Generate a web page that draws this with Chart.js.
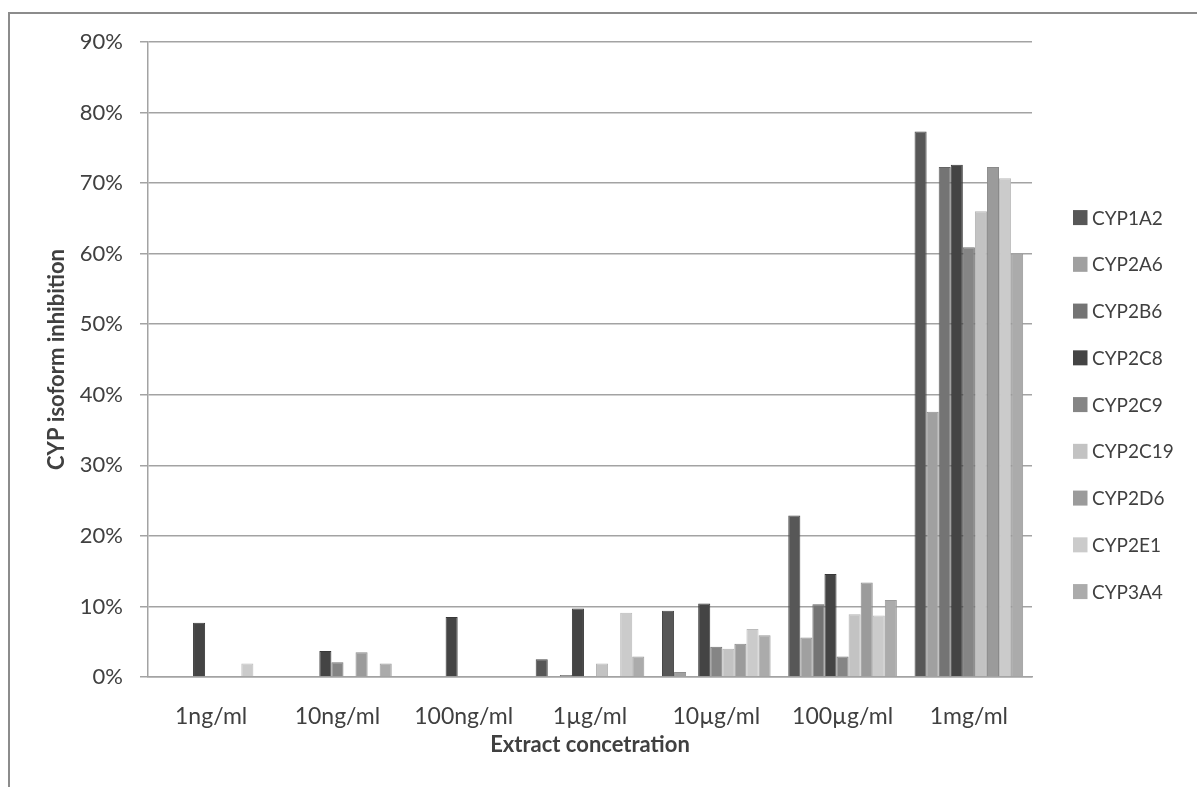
<!DOCTYPE html>
<html>
<head>
<meta charset="utf-8">
<script src="https://cdn.jsdelivr.net/npm/chart.js@4/dist/chart.umd.min.js"></script>
<style>
  html, body { margin: 0; padding: 0; background: #ffffff; overflow: hidden; }
  #wrap { position: relative; width: 1197px; height: 787px; }
  #frame { position: absolute; left: 8px; top: 12px; width: 1300px; height: 900px; border: 2px solid #8c8c8c; box-sizing: border-box; }
  #c { position: absolute; left: 0; top: 0; }
</style>
</head>
<body>
<div id="wrap">
  <div id="frame"></div>
  <canvas id="c" width="1197" height="787"></canvas>
</div>
<script>
// ---- data (values in %) ----
const categories = ['1ng/ml', '10ng/ml', '100ng/ml', '1\u00b5g/ml', '10\u00b5g/ml', '100\u00b5g/ml', '1mg/ml'];
const seriesNames = ['CYP1A2', 'CYP2A6', 'CYP2B6', 'CYP2C8', 'CYP2C9', 'CYP2C19', 'CYP2D6', 'CYP2E1', 'CYP3A4'];
const CYP1A2  = [0,   0,   0,   2.5, 9.4,  22.9, 77.3];
const CYP2A6  = [0,   0,   0,   0,   0.7,  5.6,  37.6];
const CYP2B6  = [0,   0,   0,   0.3, 0,    10.3, 72.3];
const CYP2C8  = [7.7, 3.7, 8.5, 9.7, 10.4, 14.6, 72.6];
const CYP2C9  = [0,   2.1, 0,   0,   4.3,  2.9,  60.9];
const CYP2C19 = [0,   0,   0,   1.9, 4.0,  8.9,  66.0];
const CYP2D6  = [0,   3.5, 0,   0,   4.7,  13.4, 72.3];
const CYP2E1  = [1.9, 0,   0,   9.1, 6.8,  8.7,  70.7];
const CYP3A4  = [0,   1.9, 0,   2.9, 5.9,  10.9, 60.0];
const yTicks = [0, 10, 20, 30, 40, 50, 60, 70, 80, 90];

const seriesValues = [CYP1A2, CYP2A6, CYP2B6, CYP2C8, CYP2C9, CYP2C19, CYP2D6, CYP2E1, CYP3A4];
const fillColors   = ['#575757', '#a0a0a0', '#747474', '#444444', '#858585', '#c3c3c3', '#9b9b9b', '#cbcbcb', '#ababab'];
const edgeColors   = ['#474747', '#8e8e8e', '#646464', '#383838', '#747474', '#b3b3b3', '#8a8a8a', '#bbbbbb', '#9a9a9a'];

const FONT = 'Lato, "Open Sans", sans-serif';
const TEXT = '#404040';

const customLegend = {
  id: 'customLegend',
  afterDraw(chart) {
    const ctx = chart.ctx;
    const area = chart.chartArea;
    const n = chart.data.datasets.length;
    const step = 46.75;
    const centerY = area.top + (area.bottom - area.top) * 0.571;
    const y0 = centerY - step * (n - 1) / 2;
    const bx = area.right + 41;
    ctx.save();
    ctx.font = '19px ' + FONT;
    ctx.textBaseline = 'middle';
    ctx.textAlign = 'left';
    chart.data.datasets.forEach((ds, i) => {
      const y = y0 + i * step;
      ctx.fillStyle = ds.backgroundColor;
      ctx.fillRect(bx, y - 7.5, 14.5, 15);
      ctx.fillStyle = TEXT;
      ctx.fillText(ds.label, bx + 19, y + 1);
    });
    ctx.restore();
  }
};

new Chart(document.getElementById('c'), {
  type: 'bar',
  data: {
    labels: categories,
    datasets: seriesNames.map((name, i) => ({
      label: name,
      data: seriesValues[i],
      backgroundColor: fillColors[i],
      borderColor: edgeColors[i],
      borderWidth: 1,
      borderSkipped: 'start',
      categoryPercentage: 0.86,
      barPercentage: 1.0
    }))
  },
  options: {
    responsive: false,
    animation: false,
    devicePixelRatio: 1,
    layout: { padding: { top: 42, right: 165, bottom: 0, left: 0 } },
    plugins: {
      legend: { display: false },
      tooltip: { enabled: false }
    },
    scales: {
      x: {
        type: 'category',
        offset: true,
        grid: { display: false },
        border: { display: true, color: '#a3a3a3', width: 1.5 },
        ticks: { color: TEXT, font: { family: FONT, size: 23 }, padding: 18, maxRotation: 0, autoSkip: false },
        title: { display: true, text: 'Extract concetration', color: TEXT,
                 font: { family: FONT, size: 22, weight: 'bold' }, padding: { top: 0, bottom: 29 } },
        afterFit(scale) { scale.height = 110; }
      },
      y: {
        min: 0, max: 90,
        afterBuildTicks(scale) { scale.ticks = yTicks.map(v => ({ value: v })); },
        grid: { color: '#a3a3a3', lineWidth: 1.5, drawTicks: true, tickLength: 8 },
        border: { display: true, color: '#a3a3a3', width: 1.5 },
        ticks: { color: TEXT, font: { family: FONT, size: 22 }, padding: 17,
                 callback: v => v + '%' },
        title: { display: true, text: 'CYP isoform inhibition', color: TEXT,
                 font: { family: FONT, size: 22, weight: 'bold' }, padding: { top: 44, bottom: 0 } },
        afterFit(scale) { scale.width = 148; }
      }
    }
  },
  plugins: [customLegend]
});
</script>
</body>
</html>
